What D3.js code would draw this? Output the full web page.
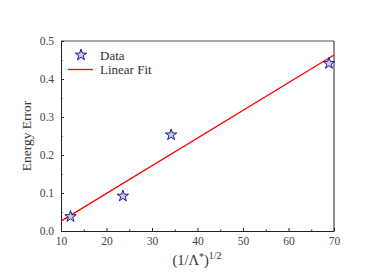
<!DOCTYPE html>
<html><head><meta charset="utf-8">
<script src="https://cdn.jsdelivr.net/npm/d3@7"></script>
<style>body{margin:0;background:#fff}svg{display:block}text{font-family:"Liberation Serif","DejaVu Serif",serif;fill:#333}</style>
</head><body>
<script>
const dataX = [12.1, 23.6, 34.2, 68.9];
const dataY = [0.038, 0.092, 0.253, 0.441];
const fitX = [10, 70];
const fitY = [0.026, 0.463];
const xTicks = [10, 20, 30, 40, 50, 60, 70];
const yTicks = [0.0, 0.1, 0.2, 0.3, 0.4, 0.5];
const legendLabels = ["Data", "Linear Fit"];

const W = 374, H = 276;
const m = {l: 61, r: 40, t: 41, b: 45};
const svg = d3.select("body").append("svg").attr("width", W).attr("height", H);
const x = d3.scaleLinear().domain([10, 70]).range([m.l, W - m.r]);
const y = d3.scaleLinear().domain([0, 0.5]).range([H - m.b, m.t]);

// frame
svg.append("line").attr("x1", x(10)).attr("x2", x(70)).attr("y1", y(0.5)).attr("y2", y(0.5)).attr("stroke", "#888").attr("stroke-width", 1.3);
svg.append("line").attr("x1", x(70)).attr("x2", x(70)).attr("y1", y(0.5)).attr("y2", y(0)).attr("stroke", "#222").attr("stroke-width", 1);

const xa = svg.append("g").attr("transform", `translate(0,${y(0)})`)
  .call(d3.axisBottom(x).tickValues(xTicks).tickFormat(d3.format("d")).tickSizeInner(-3).tickSizeOuter(0).tickPadding(6));
const xm = svg.append("g").attr("transform", `translate(0,${y(0)})`)
  .call(d3.axisBottom(x).tickValues(d3.range(15, 70, 10)).tickFormat("").tickSizeInner(-1.5).tickSizeOuter(0));
const ya = svg.append("g").attr("transform", `translate(${x(10)},0)`)
  .call(d3.axisLeft(y).tickValues(yTicks).tickFormat(d3.format(".1f")).tickSizeInner(-3).tickSizeOuter(0).tickPadding(7));
const ym = svg.append("g").attr("transform", `translate(${x(10)},0)`)
  .call(d3.axisLeft(y).tickValues(d3.range(0.05, 0.5, 0.1)).tickFormat("").tickSizeInner(-1.5).tickSizeOuter(0));
[xa, xm, ya, ym].forEach(g => { g.attr("font-family", null); g.selectAll("path").attr("stroke", "#222"); g.selectAll("line").attr("stroke", "#222"); });
xm.select("path").remove(); ym.select("path").remove();
[xa, ya].forEach(g => g.selectAll("text").style("font-size", "11.5px").style("font-family", "'Liberation Serif', serif").style("fill", "#444"));

// fit line
svg.append("path").datum(fitX.map((v, i) => [v, fitY[i]]))
  .attr("d", d3.line().x(d => x(d[0])).y(d => y(d[1])))
  .attr("stroke", "#ff0000").attr("stroke-width", 1.3).attr("fill", "none");

const star = d3.symbol().type(d3.symbolStar).size(40);
svg.selectAll(".pt").data(dataX.map((v, i) => [v, dataY[i]])).enter().append("path")
  .attr("d", star).attr("transform", d => `translate(${x(d[0])},${y(d[1])})`)
  .attr("fill", "#c8cdee").attr("stroke", "#1a1a8c").attr("stroke-width", 1);

// legend
svg.append("path").attr("d", star).attr("transform", "translate(81,55)")
  .attr("fill", "#c8cdee").attr("stroke", "#1a1a8c").attr("stroke-width", 1);
svg.append("line").attr("x1", 68).attr("x2", 93).attr("y1", 69.5).attr("y2", 69.5).attr("stroke", "#ff0000").attr("stroke-width", 1.3);
svg.append("text").attr("x", 100).attr("y", 59.5).attr("font-size", 13).text(legendLabels[0]);
svg.append("text").attr("x", 100).attr("y", 74).attr("font-size", 13).text(legendLabels[1]);

// axis labels
svg.append("text").attr("transform", "translate(31,136) rotate(-90)").attr("text-anchor", "middle").attr("font-size", 13.5).text("Energy Error");
const xl = svg.append("text").attr("x", 197).attr("y", 265).attr("text-anchor", "middle").attr("font-size", 14.5);
xl.append("tspan").text("(1/Λ");
xl.append("tspan").attr("font-size", 10).attr("dy", -5).text("*");
xl.append("tspan").attr("dy", 5).text(")");
xl.append("tspan").attr("font-size", 10).attr("dy", -6).text("1/2");
</script>
</body></html>
